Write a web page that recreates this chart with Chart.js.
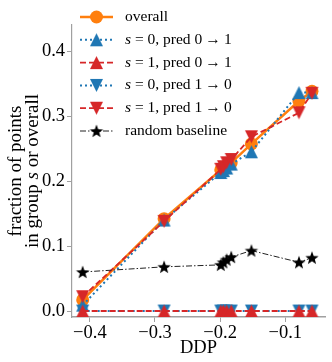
<!DOCTYPE html>
<html>
<head>
<meta charset="utf-8">
<script src="https://cdn.jsdelivr.net/npm/chart.js@4/dist/chart.umd.min.js"></script>
<style>
  html, body { margin: 0; padding: 0; background: #fff; }
  #wrap { position: relative; width: 332px; height: 362px; }
</style>
</head>
<body>
<div id="wrap"><canvas id="c" width="332" height="362"></canvas></div>
<script>
// valores
const ddp = [-0.411, -0.286, -0.199, -0.195, -0.190, -0.183, -0.152, -0.079, -0.059];
const overall = [0.017, 0.142, 0.217, 0.220, 0.224, 0.228, 0.257, 0.323, 0.338];
const s0Pred01 = [0.009, 0.140, 0.213, 0.216, 0.220, 0.226, 0.245, 0.336, 0.336];
const s1Pred01 = [0, 0, 0, 0, 0, 0, 0, 0, 0];
const s0Pred10 = [0, 0, 0, 0, 0, 0, 0, 0, 0];
const s1Pred10 = [0.022, 0.138, 0.218, 0.222, 0.228, 0.233, 0.268, 0.305, 0.335];
const randomBaseline = [0.060, 0.068, 0.071, 0.075, 0.079, 0.083, 0.093, 0.075, 0.082];

const xTicks = [-0.4, -0.3, -0.2, -0.1];
const yTicks = [0.0, 0.1, 0.2, 0.3, 0.4];

const SERIF = '"Liberation Serif", "Times New Roman", "DejaVu Serif", serif';
const ORANGE = '#ff7f0e', BLUE = '#1f77b4', RED = '#d62728';

const pts = arr => ddp.map((x, i) => ({ x, y: arr[i] }));
const fmt = v => v.toFixed(1).replace('-', '\u2212');

// marcadores estilo matplotlib: centrados por caja, no por centroide
function makeMarker(kind, color, r) {
  const c = document.createElement('canvas')
  const s = Math.ceil(r * 2 + 2)
  c.width = s; c.height = s
  const g = c.getContext('2d')
  const m = s / 2
  g.beginPath()
  if (kind === 'star') {
    for (let k = 0; k < 10; k++) {
      const rr = k % 2 === 0 ? r : r * 0.42
      const a = -Math.PI / 2 + k * Math.PI / 5
      const px = m + Math.cos(a) * rr, py = m + 0.6 + Math.sin(a) * rr
      k === 0 ? g.moveTo(px, py) : g.lineTo(px, py)
    }
  } else if (kind === 'up') {
    g.moveTo(m, m - r); g.lineTo(m + r, m + r); g.lineTo(m - r, m + r)
  } else {
    g.moveTo(m, m + r); g.lineTo(m + r, m - r); g.lineTo(m - r, m - r)
  }
  g.closePath()
  g.fillStyle = color
  g.fill()
  return c
}

// z: orden de dibujo (mayor = debajo)
const series = [
  { label: ['overall'], data: overall, color: ORANGE, dash: [], width: 2.5, style: 'circle', radius: 6.5, z: 10 },
  { label: ['s', ' = 0, pred 0\u2009\u2192\u20091'], data: s0Pred01, color: BLUE, dash: [2, 3], width: 2, style: makeMarker('up', BLUE, 6.5), radius: 6.5, z: 9 },
  { label: ['s', ' = 1, pred 0\u2009\u2192\u20091'], data: s1Pred01, color: RED, dash: [6, 3], width: 1.8, style: makeMarker('up', RED, 6.5), radius: 6.5, z: 7 },
  { label: ['s', ' = 0, pred 1\u2009\u2192\u20090'], data: s0Pred10, color: BLUE, dash: [2, 3], width: 2, style: makeMarker('down', BLUE, 6.5), radius: 6.5, z: 8 },
  { label: ['s', ' = 1, pred 1\u2009\u2192\u20090'], data: s1Pred10, color: RED, dash: [6, 3], width: 1.8, style: makeMarker('down', RED, 6.5), radius: 6.5, z: 6 },
  { label: ['random baseline'], data: randomBaseline, color: '#222', dash: [6, 2, 1.5, 2], width: 1, style: makeMarker('star', '#000', 7), radius: 7, z: 5 },
]

function drawMarker(ctx, s, x, y) {
  if (s.style !== 'circle') { ctx.drawImage(s.style, x - s.style.width / 2, y - s.style.height / 2); return }
  ctx.save()
  ctx.fillStyle = s.color
  ctx.beginPath()
  ctx.arc(x, y, s.radius, 0, Math.PI * 2)
  ctx.fill()
  ctx.restore()
}

// leyenda + etiquetas de ejes dibujadas a mano (s en cursiva)
const decor = {
  id: 'decor',
  afterDraw(chart) {
    const ctx = chart.ctx
    const a = chart.chartArea
    ctx.save()
    ctx.fillStyle = '#000'
    ctx.textBaseline = 'middle'
    series.forEach((s, i) => {
      const y = 17 + i * 22.8
      ctx.save()
      ctx.strokeStyle = s.color
      ctx.lineWidth = s.width
      ctx.setLineDash(s.dash)
      ctx.beginPath(); ctx.moveTo(80, y); ctx.lineTo(113, y); ctx.stroke()
      ctx.restore()
      drawMarker(ctx, s, 96.5, y)
      let x = 125
      if (s.label.length === 2) {
        ctx.font = 'italic 15.5px ' + SERIF
        ctx.fillText(s.label[0], x, y)
        x += ctx.measureText(s.label[0]).width
        ctx.font = '15.5px ' + SERIF
        ctx.fillText(s.label[1], x, y)
      } else {
        ctx.font = '15.5px ' + SERIF
        ctx.fillText(s.label[0], x, y)
      }
    })

    // DDP
    ctx.font = '18.5px ' + SERIF
    ctx.textAlign = 'center'
    ctx.textBaseline = 'alphabetic'
    ctx.fillText('DDP', (a.left + a.right) / 2, 353)

    // etiqueta eje y, dos líneas
    const cy = (a.top + a.bottom) / 2
    ctx.translate(0, cy)
    ctx.rotate(-Math.PI / 2)
    ctx.font = '19px ' + SERIF
    ctx.fillText('fraction of points', 0, 21)
    const parts = [['in group ', ''], ['s', 'italic '], [' or overall', '']]
    let tw = 0
    parts.forEach(p => { ctx.font = p[1] + '19px ' + SERIF; tw += ctx.measureText(p[0]).width })
    let x0 = -tw / 2
    ctx.textAlign = 'left'
    parts.forEach(p => {
      ctx.font = p[1] + '19px ' + SERIF
      ctx.fillText(p[0], x0, 38)
      x0 += ctx.measureText(p[0]).width
    })
    ctx.restore()
  }
}

const datasets = series.map(s => ({
  label: s.label.join(''),
  data: pts(s.data),
  borderColor: s.color,
  backgroundColor: s.color,
  borderWidth: s.width,
  borderDash: s.dash,
  showLine: true,
  fill: false,
  tension: 0,
  pointStyle: s.style,
  pointRadius: s.radius,
  pointBorderWidth: 0,
  pointBackgroundColor: s.color,
  order: s.z,
}))

const axisGray = '#a0a0a0'

new Chart(document.getElementById('c'), {
  type: 'scatter',
  data: { datasets },
  plugins: [decor],
  options: {
    responsive: false,
    animation: false,
    events: [],
    layout: { padding: { top: 25, right: 5, left: 0, bottom: 0 } },
    plugins: { legend: { display: false }, tooltip: { enabled: false } },
    scales: {
      x: {
        type: 'linear',
        min: -0.4274, max: -0.039,
        afterFit: sc => { sc.height = 45 },
        afterBuildTicks: sc => { sc.ticks = xTicks.map(v => ({ value: v })) },
        grid: { display: true, drawOnChartArea: false, drawTicks: true, tickLength: 5, color: axisGray },
        border: { display: true, color: axisGray, width: 1.5 },
        ticks: { color: '#000', padding: 0, maxRotation: 0, font: { family: SERIF, size: 18.5 }, callback: v => fmt(v) },
      },
      y: {
        type: 'linear',
        min: -0.0092, max: 0.44,
        afterFit: sc => { sc.width = 72 },
        afterBuildTicks: sc => { sc.ticks = yTicks.map(v => ({ value: v })) },
        grid: { display: true, drawOnChartArea: false, drawTicks: true, tickLength: 5, color: axisGray },
        border: { display: true, color: axisGray, width: 1.2 },
        ticks: { color: '#000', padding: 2, font: { family: SERIF, size: 18.5 }, callback: v => fmt(v) },
      }
    }
  }
})
</script>
</body>
</html>
